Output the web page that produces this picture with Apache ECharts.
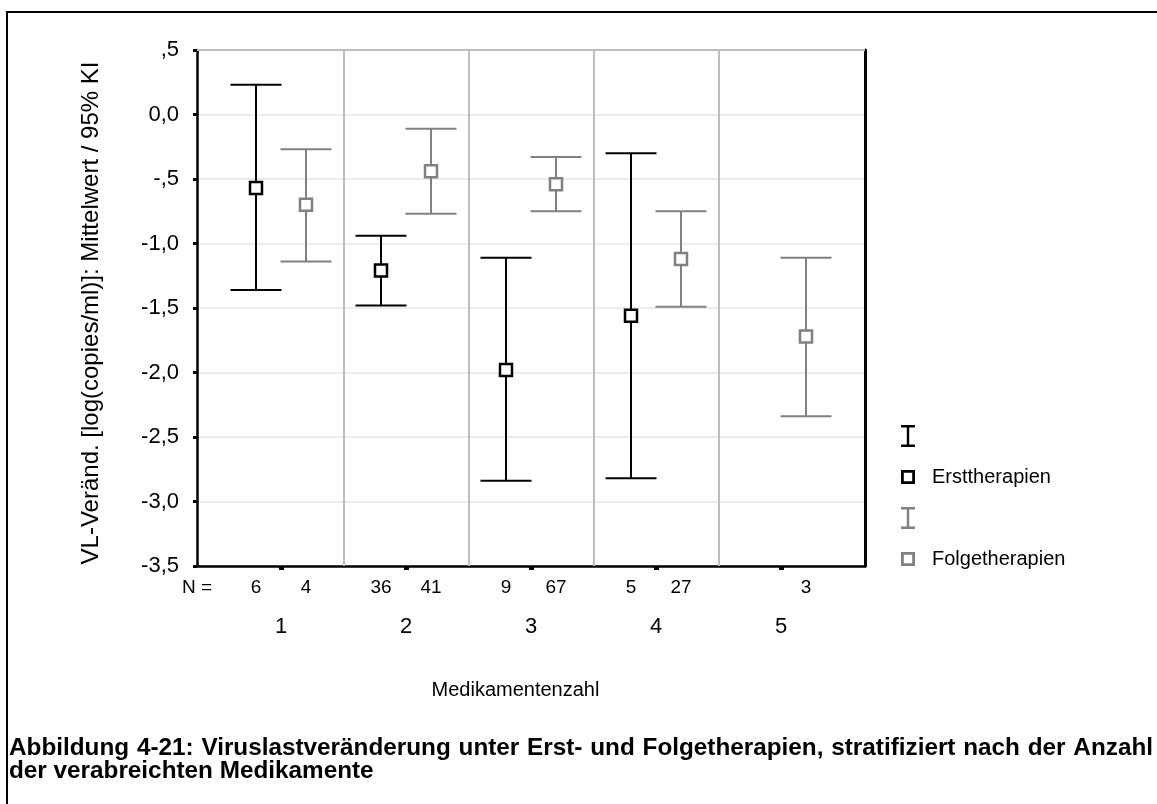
<!DOCTYPE html>
<html>
<head>
<meta charset="utf-8">
<script src="https://cdn.jsdelivr.net/npm/echarts@6/dist/echarts.min.js"></script>
<style>
  html, body { margin: 0; padding: 0; background: #fff; }
  #chart { width: 1157px; height: 804px; }
</style>
</head>
<body>
<div id="chart"></div>
<script>
// Medication count groups on the x axis
const categories = ['1', '2', '3', '4', '5'];

// Sample sizes per group
const nErst  = [6, 36, 9, 5, null];
const nFolge = [4, 41, 67, 27, 3];

// Change of viral load, mean and 95% confidence interval (log copies/ml)
const erstMean  = [-0.57, -1.21, -1.98, -1.56, null];
const erstLow   = [-1.36, -1.48, -2.84, -2.82, null];
const erstHigh  = [ 0.23, -0.94, -1.11, -0.30, null];

const folgeMean = [-0.70, -0.44, -0.54, -1.12, -1.72];
const folgeLow  = [-1.14, -0.77, -0.75, -1.49, -2.34];
const folgeHigh = [-0.27, -0.11, -0.33, -0.75, -1.11];

const captionLine1 = 'Abbildung 4-21: Viruslastveränderung unter Erst- und Folgetherapien, stratifiziert nach der Anzahl';
const captionLine2 = 'der verabreichten Medikamente';

const FONT = '"Liberation Sans", Arial, sans-serif';
const BLACK = '#000000';
const GREY = '#808080';
const SHIFT = 0.2;            // side-by-side offset of the two groups within a category
const X_MIN = 0.328, X_MAX = 5.672;

function rows(low, high, shift) {
  const out = [];
  categories.forEach((c, i) => {
    if (low[i] == null) return;
    out.push([i + 1 + shift, low[i], high[i]]);
  });
  return out;
}
function points(mean, shift) {
  const out = [];
  categories.forEach((c, i) => {
    if (mean[i] == null) return;
    out.push([i + 1 + shift, mean[i]]);
  });
  return out;
}

function ciSeries(name, color, low, high, shift) {
  return {
    name: name,
    type: 'custom',
    z: 3,
    silent: true,
    itemStyle: { color: color },
    encode: { x: 0, y: [1, 2] },
    data: rows(low, high, shift),
    renderItem: function (params, api) {
      const x = api.value(0);
      const lo = api.coord([x, api.value(1)]);
      const hi = api.coord([x, api.value(2)]);
      const half = 25.5;
      const style = { stroke: color, lineWidth: 2, fill: null };
      return {
        type: 'group',
        children: [
          { type: 'line', shape: { x1: hi[0], y1: hi[1], x2: lo[0], y2: lo[1] }, style: style },
          { type: 'line', shape: { x1: hi[0] - half, y1: hi[1], x2: hi[0] + half, y2: hi[1] }, style: style },
          { type: 'line', shape: { x1: lo[0] - half, y1: lo[1], x2: lo[0] + half, y2: lo[1] }, style: style }
        ]
      };
    }
  };
}

function meanSeries(name, color, mean, shift) {
  return {
    name: name,
    type: 'scatter',
    z: 4,
    silent: true,
    symbol: 'rect',
    symbolSize: 12,
    itemStyle: { color: '#ffffff', borderColor: color, borderWidth: 2.5, opacity: 1 },
    data: points(mean, shift)
  };
}

function yLabel(v) {
  if (v === 0) return '0,0';
  let s = Math.abs(v).toFixed(1).replace('.', ',');
  if (Math.abs(v) < 1) s = s.replace(/^0/, '');
  return (v < 0 ? '-' : '') + s;
}

function nLabel(v) {
  const i = Math.round(v);
  const arr = v < i ? nErst : nFolge;
  const n = arr[i - 1];
  return n == null ? '' : String(n);
}

const nPositions = [];
categories.forEach((c, i) => {
  if (nErst[i] != null) nPositions.push(i + 1 - SHIFT);
  if (nFolge[i] != null) nPositions.push(i + 1 + SHIFT);
});
const catPositions = categories.map((c, i) => i + 1);

// Justified caption line: words spread between a left and a right edge
const CAPTION_FONT = 'bold 24.3px ' + FONT;
function justifiedLine(text, left, right, y) {
  const ctx = document.createElement('canvas').getContext('2d');
  ctx.font = CAPTION_FONT;
  const words = text.split(' ');
  const widths = words.map(w => ctx.measureText(w).width);
  const total = widths.reduce((a, b) => a + b, 0);
  const gap = (right - left - total) / (words.length - 1);
  let x = left;
  return words.map((w, i) => {
    const el = {
      type: 'text', silent: true, x: x, y: y,
      style: { text: w, font: CAPTION_FONT, fill: '#000', align: 'left', verticalAlign: 'middle' }
    };
    x += widths[i] + gap;
    return el;
  });
}

const ICON_I = 'path://M0,0h14v2.4h-5.8v17.2h5.8v2.4h-14v-2.4h5.8v-17.2h-5.8z';
const ICON_SQ = 'path://M0,0h12v12h-12z M2.4,2.4v7.2h7.2v-7.2z';

const chart = echarts.init(document.getElementById('chart'), null, { renderer: 'canvas' });

chart.setOption({
  animation: false,
  backgroundColor: '#ffffff',
  textStyle: { fontFamily: FONT },
  grid: { left: 197, right: 292, top: 50, bottom: 238, containLabel: false },
  legend: {
    orient: 'vertical',
    left: 896,
    top: 420,
    itemWidth: 14,
    itemHeight: 22,
    itemGap: 20,
    selectedMode: false,
    textStyle: { fontFamily: FONT, fontSize: 20, color: '#000', padding: [0, 0, 0, 12] },
    formatter: function (name) { return name.indexOf('KI ') === 0 ? '' : name; },
    data: [
      { name: 'KI Ersttherapien', icon: ICON_I, itemStyle: { color: BLACK, borderWidth: 0 } },
      { name: 'Ersttherapien', icon: ICON_SQ, itemStyle: { color: BLACK, borderWidth: 0 } },
      { name: 'KI Folgetherapien', icon: ICON_I, itemStyle: { color: GREY, borderWidth: 0 } },
      { name: 'Folgetherapien', icon: ICON_SQ, itemStyle: { color: GREY, borderWidth: 0 } }
    ]
  },
  xAxis: [
    {
      type: 'value',
      min: X_MIN,
      max: X_MAX,
      position: 'bottom',
      name: 'Medikamentenzahl',
      nameLocation: 'middle',
      nameGap: 114,
      nameTextStyle: { fontFamily: FONT, fontSize: 20, color: '#000', padding: [0, 31, 0, 0] },
      axisLine: { show: true, onZero: false, lineStyle: { color: BLACK, width: 2.5 } },
      axisTick: { show: true, customValues: catPositions, length: 4, lineStyle: { color: BLACK, width: 5 } },
      axisLabel: {
        customValues: catPositions,
        formatter: function (v) { return categories[Math.round(v) - 1]; },
        margin: 50,
        fontFamily: FONT, fontSize: 22, color: '#000'
      },
      splitLine: { show: false }
    },
    {
      type: 'value',
      min: X_MIN,
      max: X_MAX,
      position: 'bottom',
      axisLine: { show: false },
      axisTick: { show: false },
      axisLabel: {
        customValues: nPositions,
        formatter: nLabel,
        margin: 12,
        fontFamily: FONT, fontSize: 19, color: '#000'
      },
      splitLine: { show: false }
    }
  ],
  yAxis: [
    {
      type: 'value',
      min: -3.5,
      max: 0.5,
      interval: 0.5,
      position: 'left',
      name: 'VL-Veränd. [log(copies/ml)]: Mittelwert / 95% KI',
      nameLocation: 'middle',
      nameGap: 94,
      nameTextStyle: { fontFamily: FONT, fontSize: 24, color: '#000', padding: [0, 10, 0, 0] },
      axisLine: { show: true, onZero: false, lineStyle: { color: BLACK, width: 2.5 } },
      axisTick: { show: true, length: 4, lineStyle: { color: BLACK, width: 3 } },
      axisLabel: { formatter: yLabel, margin: 18, fontFamily: FONT, fontSize: 22, color: '#000' },
      splitLine: { show: true, lineStyle: { color: '#ececec', width: 2 } }
    },
    {
      type: 'value',
      min: -3.5,
      max: 0.5,
      interval: 0.5,
      position: 'right',
      axisLine: { show: true, onZero: false, lineStyle: { color: BLACK, width: 3 } },
      axisTick: { show: false },
      axisLabel: { show: false },
      splitLine: { show: false }
    }
  ],
  graphic: [
    {
      type: 'rect', silent: true, z: 0,
      shape: { x: 7, y: 12, width: 1170, height: 820 },
      style: { fill: null, stroke: '#000', lineWidth: 2 }
    },
    {
      type: 'text', silent: true,
      x: 197, y: 588,
      style: { text: 'N =', font: '19px ' + FONT, fill: '#000', align: 'center', verticalAlign: 'middle' }
    }
  ]
    .concat(justifiedLine(captionLine1, 9, 1153, 748))
    .concat([{
      type: 'text', silent: true, x: 9, y: 771,
      style: { text: captionLine2, font: CAPTION_FONT, fill: '#000', align: 'left', verticalAlign: 'middle' }
    }]),
  series: [
    {
      name: 'Trennlinien',
      type: 'line',
      data: [],
      z: 1,
      silent: true,
      markLine: {
        silent: true,
        symbol: ['none', 'none'],
        label: { show: false },
        lineStyle: { color: '#bdbdbd', width: 2, type: 'solid' },
        data: [{ xAxis: 1.5 }, { xAxis: 2.5 }, { xAxis: 3.5 }, { xAxis: 4.5 }, { yAxis: 0.5 }]
      }
    },
    ciSeries('KI Ersttherapien', BLACK, erstLow, erstHigh, -SHIFT),
    ciSeries('KI Folgetherapien', GREY, folgeLow, folgeHigh, SHIFT),
    meanSeries('Ersttherapien', BLACK, erstMean, -SHIFT),
    meanSeries('Folgetherapien', GREY, folgeMean, SHIFT)
  ]
});
</script>
</body>
</html>
